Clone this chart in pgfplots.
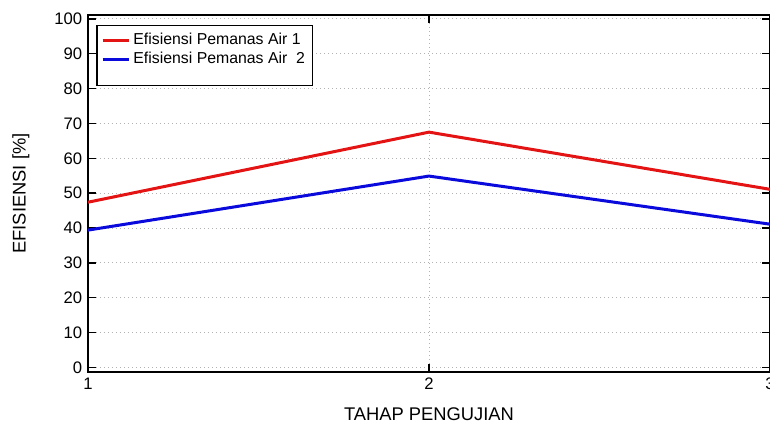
\documentclass[border=0pt]{standalone}
\usepackage{pgfplots}
\pgfplotsset{compat=1.18}
\usepackage{fontspec}
\setmainfont{Liberation Sans}

\definecolor{redline}{RGB}{228,20,20}
\definecolor{blueline}{RGB}{10,10,220}

\begin{document}
\begin{tikzpicture}
\begin{axis}[
  scale only axis,
  width=409.2pt, height=214.2pt,
  xmin=1, xmax=3, ymin=-1.3, ymax=101.1,
  xtick={1,2,3}, ytick={0,10,...,100},
  /pgf/number format/assume math mode=true,
  tick label style={font=\fontsize{10}{12}\selectfont},
  tick align=inside, tick pos=both,
  major tick length=5pt,
  tick style={black, line width=0.9pt},
  axis line style={line width=1.1pt},
  grid=major,
  major grid style={gray!60, dotted, line width=0.6pt},
  xlabel={TAHAP PENGUJIAN},
  ylabel={EFISIENSI [\%]},
  label style={font=\fontsize{11}{13}\selectfont},
  xlabel style={yshift=-4pt},
  ylabel style={yshift=8pt},
  legend style={at={(0.012,0.972)}, anchor=north west, font=\fontsize{9.5}{11}\selectfont,
    draw=black, line width=0.8pt, row sep=-1pt, inner sep=2.5pt},
  legend cell align=left,
  legend image post style={line width=1.8pt},
  legend image code/.code={\draw[#1] (0cm,0cm) -- (0.55cm,0cm);},
]
\addplot[redline, line width=1.8pt] coordinates {(1,47.4) (2,67.5) (3,51.1)};
\addlegendentry{Efisiensi Pemanas Air 1}
\addplot[blueline, line width=1.8pt] coordinates {(1,39.4) (2,54.9) (3,41.1)};
\addlegendentry{Efisiensi Pemanas Air\ \ 2}
\addlegendimage{empty legend}
\addlegendentry{\rule{0pt}{2.5pt}}
\end{axis}
\pgfresetboundingbox
\path[use as bounding box] ([xshift=-52.8pt,yshift=-31.2pt]current axis.south west) rectangle ([yshift=9pt]current axis.north east);
\end{tikzpicture}
\end{document}
